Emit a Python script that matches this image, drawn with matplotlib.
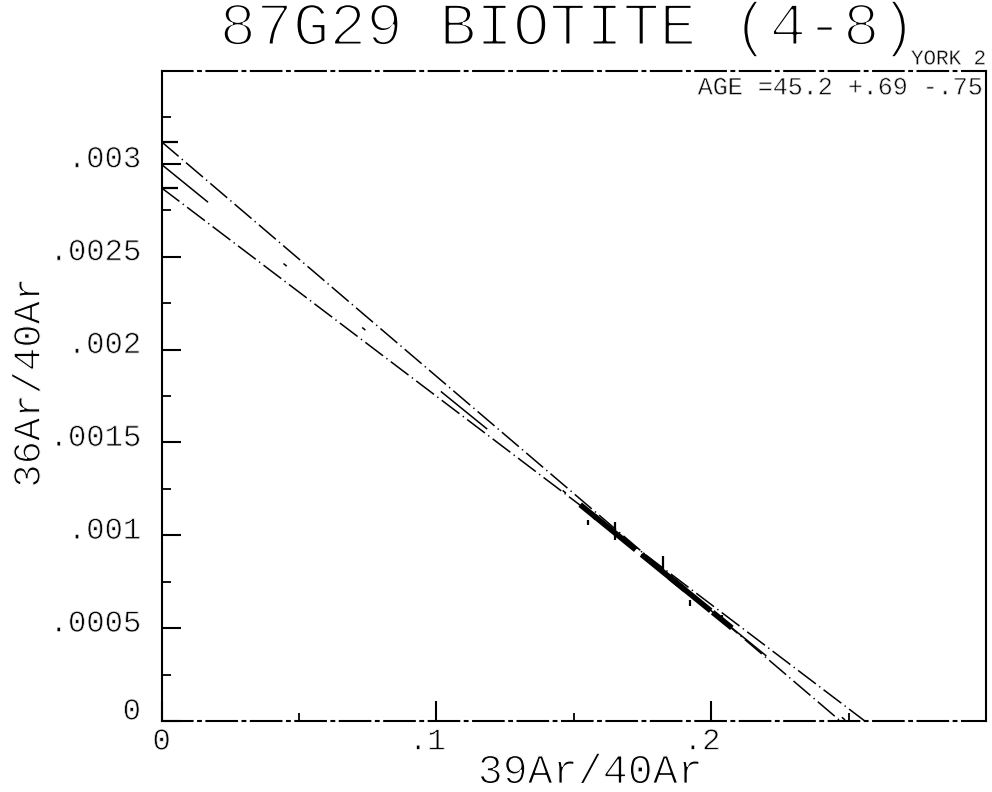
import matplotlib
matplotlib.use("Agg")
import matplotlib.pyplot as plt
import matplotlib.patheffects as pe
import numpy as np
from matplotlib.transforms import ScaledTranslation

plt.rcParams["font.family"] = ["Liberation Mono", "DejaVu Sans Mono"]
plt.rcParams["lines.scale_dashes"] = False

# ---- text ----
title = "87G29 BIOTITE (4-8)"
method_label = "YORK 2"
age_label = "AGE =45.2 +.69 -.75"
x_label = "39Ar/40Ar"
y_label = "36Ar/40Ar"

# ---- axes ----
x_limits = [0.0, 0.3]
y_limits = [0.0, 0.0035]
x_tick_values = [0.0, 0.1, 0.2]
x_tick_labels = ["0", ".1", ".2"]
x_minor_values = [0.05, 0.15, 0.25]
y_tick_values = [0.0, 0.0005, 0.001, 0.0015, 0.002, 0.0025, 0.003]
y_tick_labels = ["0", ".0005", ".001", ".0015", ".002", ".0025", ".003"]
y_minor_values = [0.00025, 0.00075, 0.00125, 0.00175, 0.00225, 0.00275, 0.00325]

# ---- isochron fit: upper envelope, best fit, lower envelope ----
fit_y_intercepts = [0.003118, 0.002996, 0.002870]
fit_x_intercepts = [0.2470, 0.2492, 0.2559]

# ---- heating steps 4-8 ----
step_x = [0.1553, 0.1650, 0.1826, 0.1923, 0.2040]
step_y = [0.001071, 0.001023, 0.000848, 0.000635, 0.000565]
step_sx = [0.0030, 0.0075, 0.0080, 0.0075, 0.0035]
step_sy = [0.0000135, 0.000046, 0.000040, 0.000016, 0.000008]


def thin(width):
    """Erode glyph outlines so the lettering looks pen-plotted."""
    return [pe.Normal(), pe.Stroke(linewidth=width, foreground="white")]


fig = plt.figure(figsize=(9.92, 7.92), dpi=100)
ax = fig.add_axes([0.163, 0.0896, 0.831, 0.8208])
ax.set_xlim(x_limits)
ax.set_ylim(y_limits)

envelope_dash = (0, (16, 3, 1, 3))
best_dash = (0, (43, 70, 3, 70, 3, 70))
styles = [envelope_dash, best_dash, envelope_dash]
for b, a, ls in zip(fit_y_intercepts, fit_x_intercepts, styles):
    xs = np.array([0.0, a])
    ys = b * (1.0 - xs / a)
    ax.plot(xs, ys, color="black", lw=1.1, linestyle=ls, solid_capstyle="butt")

# intercept marks on the 36Ar/40Ar axis for the envelope
for b in (fit_y_intercepts[0], fit_y_intercepts[2]):
    ax.plot([0.0], [b], marker=1, markersize=11.5, markeredgewidth=1.6,
            color="black", clip_on=False)

# correlated step errors along the best fit, plus 36Ar/40Ar error bars
b_fit, a_fit = fit_y_intercepts[1], fit_x_intercepts[1]
for x, y, sx, sy in zip(step_x, step_y, step_sx, step_sy):
    seg_x = np.array([x - sx, x + sx])
    seg_y = b_fit * (1.0 - seg_x / a_fit)
    ax.plot(seg_x, seg_y, color="black", lw=4.0, solid_capstyle="butt")
    ax.plot([x, x], [y - sy, y + sy], color="black", lw=1.6, solid_capstyle="butt")

# ticks
ax.set_xticks(x_tick_values)
ax.set_xticklabels(x_tick_labels)
ax.set_xticks(x_minor_values, minor=True)
ax.set_yticks(y_tick_values)
ax.set_yticklabels(y_tick_labels)
ax.set_yticks(y_minor_values, minor=True)
ax.tick_params(axis="x", which="major", direction="in", length=14.4, width=1.5,
               pad=4, labelsize=22, top=False)
ax.tick_params(axis="x", which="minor", direction="in", length=5.5, width=1.3, top=False)
ax.tick_params(axis="y", which="major", direction="in", length=13.7, width=1.5,
               pad=15, labelsize=22, right=False)
ax.tick_params(axis="y", which="minor", direction="in", length=6.5, width=1.3, right=False)

for lab in ax.get_xticklabels():
    lab.set_horizontalalignment("right")
    lab.set_transform(lab.get_transform() + ScaledTranslation(0.09, 0, fig.dpi_scale_trans))
    lab.set_path_effects(thin(0.6))
for i, lab in enumerate(ax.get_yticklabels()):
    lift = 0.13 if i == 0 else 0.08
    lab.set_transform(lab.get_transform() + ScaledTranslation(0, lift, fig.dpi_scale_trans))
    lab.set_path_effects(thin(0.6))

for side in ("left", "right"):
    ax.spines[side].set_linewidth(1.5)
for side in ("top", "bottom"):
    ax.spines[side].set_linewidth(1.5)
    ax.spines[side].set_linestyle((0, (22, 4, 2, 4)))

# annotations
fig.text(0.572, 0.963, title, ha="center", va="center", fontsize=44,
         path_effects=thin(1.9))
ax.text(1.0, 1.004, method_label, transform=ax.transAxes, ha="right", va="bottom",
        fontsize=15, path_effects=thin(0.4))
ax.text(0.996, 0.993, age_label, transform=ax.transAxes, ha="right", va="top",
        fontsize=18, path_effects=thin(0.5))
fig.text(0.595, 0.011, x_label, ha="center", va="baseline", fontsize=30,
         path_effects=thin(1.0))
fig.text(0.030, 0.517, y_label, ha="center", va="center", rotation=90, fontsize=28,
         path_effects=thin(0.9))

fig.savefig("out.png", dpi=100)
